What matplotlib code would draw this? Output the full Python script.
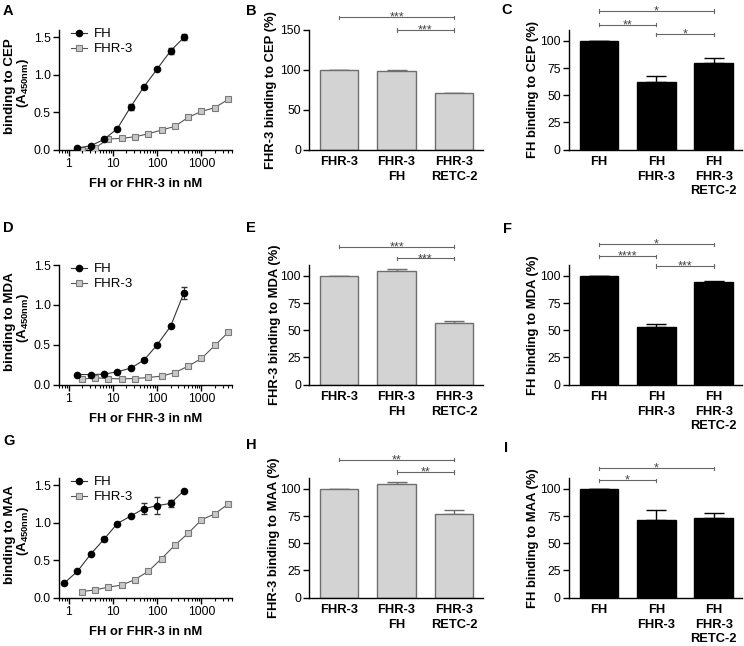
import matplotlib
matplotlib.use("Agg")
import matplotlib.pyplot as plt
from matplotlib.transforms import offset_copy

plt.rcParams["font.family"] = ["Liberation Sans", "DejaVu Sans"]
plt.rcParams["mathtext.fontset"] = "custom"
plt.rcParams["mathtext.rm"] = "Liberation Sans:bold"
plt.rcParams["mathtext.bf"] = "Liberation Sans:bold"
plt.rcParams["font.size"] = 9

# ── Data: titration curves ────────────────────────────────────────────────────
conc_fh = [1.5625, 3.125, 6.25, 12.5, 25, 50, 100, 200, 400]
conc_fh_maa = [0.78, 1.5625, 3.125, 6.25, 12.5, 25, 50, 100, 200, 400]
conc_fhr3 = [1.95, 3.9, 7.8, 15.6, 31.25, 62.5, 125, 250, 500, 1000, 2000, 4000]

cep_fh = [0.02, 0.05, 0.135, 0.28, 0.57, 0.84, 1.08, 1.32, 1.50]
cep_fh_err = [0, 0, 0.01, 0, 0.04, 0, 0, 0.04, 0.04]
cep_fhr3 = [0.0, 0.02, 0.14, 0.15, 0.17, 0.21, 0.26, 0.31, 0.43, 0.51, 0.56, 0.67]

mda_fh = [0.125, 0.125, 0.13, 0.16, 0.205, 0.305, 0.50, 0.73, 1.15]
mda_fh_err = [0, 0, 0, 0, 0, 0, 0, 0, 0.08]
mda_fhr3 = [0.067, 0.084, 0.075, 0.071, 0.075, 0.088, 0.105, 0.15, 0.23, 0.327, 0.49, 0.654]

maa_fh = [0.19, 0.35, 0.58, 0.78, 0.99, 1.09, 1.19, 1.23, 1.26, 1.43]
maa_fh_err = [0, 0, 0, 0.03, 0, 0, 0.07, 0.11, 0.05, 0]
maa_fhr3 = [0.08, 0.10, 0.14, 0.165, 0.24, 0.35, 0.52, 0.70, 0.86, 1.04, 1.12, 1.25]

# ── Data: competition bars ────────────────────────────────────────────────────
fhr3_groups = ["FHR-3", "FHR-3\nFH", "FHR-3\nRETC-2"]
fh_groups = ["FH", "FH\nFHR-3", "FH\nFHR-3\nRETC-2"]

cep_fhr3_pct = [100, 98.5, 70.5]
cep_fhr3_err = [0, 1.5, 0.7]
cep_fh_pct = [100, 62, 80]
cep_fh_err_pct = [0, 5.2, 4.3]

mda_fhr3_pct = [100, 104.3, 56.6]
mda_fhr3_err = [0, 2.3, 2.2]
mda_fh_pct = [100, 53.2, 94.8]
mda_fh_err_pct = [0, 2.8, 0.9]

maa_fhr3_pct = [100, 104.3, 76.6]
maa_fhr3_err = [0, 2.2, 4.0]
maa_fh_pct = [100, 71.7, 73.2]
maa_fh_err_pct = [0, 8.6, 4.6]

W, H = 744, 646
fig = plt.figure(figsize=(W / 100, H / 100), dpi=100)
fig.patch.set_facecolor("white")

GREY_FILL = "#d3d3d3"
GREY_EDGE = "#6e6e6e"
BRACKET = "#666666"


def px_axes(left, top, width, height):
    return fig.add_axes([left / W, 1 - (top + height) / H, width / W, height / H])


def style(ax, size):
    for s in ("top", "right"):
        ax.spines[s].set_visible(False)
    for s in ("left", "bottom"):
        ax.spines[s].set_linewidth(1.0)
    ax.tick_params(direction="out", length=4, width=1.0, labelsize=size, pad=2)


def curve_panel(top, fh_x, fh_y, fh_e, r3_y, target, ymax):
    ax = px_axes(59, top, 173.4, 119.5)
    style(ax, 8.7)
    ax.plot(conc_fhr3, r3_y, color="#555555", lw=0.8, marker="s", ms=5,
            mfc="#c8c8c8", mec="#7a7a7a", mew=0.8, label="FHR-3", zorder=3)
    ax.errorbar(fh_x, fh_y, yerr=fh_e, fmt="none", ecolor="#333333",
                elinewidth=0.8, capsize=2, zorder=4)
    ax.plot(fh_x, fh_y, color="#333333", lw=0.8, marker="o", ms=4.5,
            mfc="black", mec="black", label="FH", zorder=5)
    ax.set_xscale("log")
    ax.set_xlim(0.6, 5000)
    ax.set_ylim(0, ymax)
    ax.set_xticks([1, 10, 100, 1000])
    ax.set_xticklabels(["1", "10", "100", "1000"])
    ax.set_yticks([0, 0.5, 1.0, 1.5])
    ax.set_yticklabels(["0.0", "0.5", "1.0", "1.5"])
    ax.tick_params(axis="x", which="minor", length=2, width=0.8)
    h, l = ax.get_legend_handles_labels()
    ax.legend(h[::-1], l[::-1], loc="upper left", frameon=False, fontsize=9.5,
              handlelength=1.2, handletextpad=0.5, borderaxespad=0.0,
              labelspacing=0.2, bbox_to_anchor=(0.04, 1.06))
    ax.text(-0.285, 0.53, "binding to " + target, transform=ax.transAxes,
            rotation=90, ha="center", va="center", fontweight="bold", fontsize=9.6)
    ax.text(-0.21, 0.56, "(A$_{\\mathrm{450nm}}$)", transform=ax.transAxes,
            rotation=90, ha="center", va="center", fontweight="bold", fontsize=9.6)
    ax.text(0.5, -0.285, "FH or FHR-3 in nM", transform=ax.transAxes,
            ha="center", va="center", fontweight="bold", fontsize=9.4)
    return ax


def bar_panel(left, top, labels, vals, errs, fill, edge, ylabel, ymax, yticks,
              sig, label_x):
    ax = px_axes(left, top, 173.4, 119.5)
    style(ax, 8.7)
    xs = list(range(len(vals)))
    ax.bar(xs, vals, width=0.67, color=fill, edgecolor=edge, linewidth=1.0, zorder=2)
    ax.errorbar(xs, vals, yerr=[[0] * len(errs), errs], fmt="none",
                ecolor=edge, elinewidth=1.0, capsize=7, capthick=1.0, zorder=1)
    ax.set_xlim(-0.52, 2.5)
    ax.set_ylim(0, ymax)
    ax.set_yticks(yticks)
    ax.set_xticks(xs)
    ax.set_xticklabels(labels, fontweight="bold", fontsize=9.3, linespacing=1.28)
    ax.tick_params(axis="x", length=0, pad=5)
    ax.text(label_x, 0.5, ylabel, transform=ax.transAxes, rotation=90,
            ha="center", va="center", fontweight="bold", fontsize=9.4)
    star_tr = offset_copy(ax.transData, fig=fig, y=-3.5, units="dots")
    cap = 1.6 * ymax / 119.5
    for i, j, txt, y in sig:
        ax.plot([i, j], [y, y], color=BRACKET, lw=0.8, clip_on=False)
        for xe in (i, j):
            ax.plot([xe, xe], [y - cap, y + cap], color=BRACKET, lw=0.8, clip_on=False)
        ax.text((i + j) / 2, y, txt, transform=star_tr, ha="center", va="baseline",
                fontsize=9, color="#444444", clip_on=False)
    return ax


rows = [
    (30, "CEP", conc_fh, cep_fh, cep_fh_err, cep_fhr3, 1.6,
     cep_fhr3_pct, cep_fhr3_err, 150, [0, 50, 100, 150],
     [(0, 2, "***", 166), (1, 2, "***", 150)], -0.22,
     cep_fh_pct, cep_fh_err_pct,
     [(0, 2, "*", 127.5), (0, 1, "**", 115), (1, 2, "*", 106)]),
    (265, "MDA", conc_fh, mda_fh, mda_fh_err, mda_fhr3, 1.5,
     mda_fhr3_pct, mda_fhr3_err, 110, [0, 25, 50, 75, 100],
     [(0, 2, "***", 127), (1, 2, "***", 116)], -0.195,
     mda_fh_pct, mda_fh_err_pct,
     [(0, 2, "*", 129), (0, 1, "****", 118), (1, 2, "***", 109)]),
    (478, "MAA", conc_fh_maa, maa_fh, maa_fh_err, maa_fhr3, 1.6,
     maa_fhr3_pct, maa_fhr3_err, 110, [0, 25, 50, 75, 100],
     [(0, 2, "**", 127), (1, 2, "**", 115.5)], -0.204,
     maa_fh_pct, maa_fh_err_pct,
     [(0, 2, "*", 119), (0, 1, "*", 108)]),
]

for (top, tgt, fx, fy, fe, r3, ymax_c, bv, be, bmax, bticks, bsig, blx,
     cv, ce, csig) in rows:
    curve_panel(top, fx, fy, fe, r3, tgt, ymax_c)
    bar_panel(309.3, top, fhr3_groups, bv, be, GREY_FILL, GREY_EDGE,
              "FHR-3 binding to " + tgt + " (%)", bmax, bticks, bsig, blx)
    bar_panel(569, top, fh_groups, cv, ce, "black", "black",
              "FH binding to " + tgt + " (%)", 110, [0, 25, 50, 75, 100], csig,
              -0.205)

# ── Panel letters ─────────────────────────────────────────────────────────────
letters = [("A", 3, 4), ("B", 246, 4), ("C", 501, 3),
           ("D", 3, 221), ("E", 246, 221), ("F", 503, 222),
           ("G", 3, 434), ("H", 246, 438), ("I", 504, 441)]
for t, x, y in letters:
    fig.text(x / W, 1 - y / H, t, ha="left", va="top", fontsize=10.5,
             fontweight="bold")

plt.savefig("out.png", dpi=100, facecolor="white")
